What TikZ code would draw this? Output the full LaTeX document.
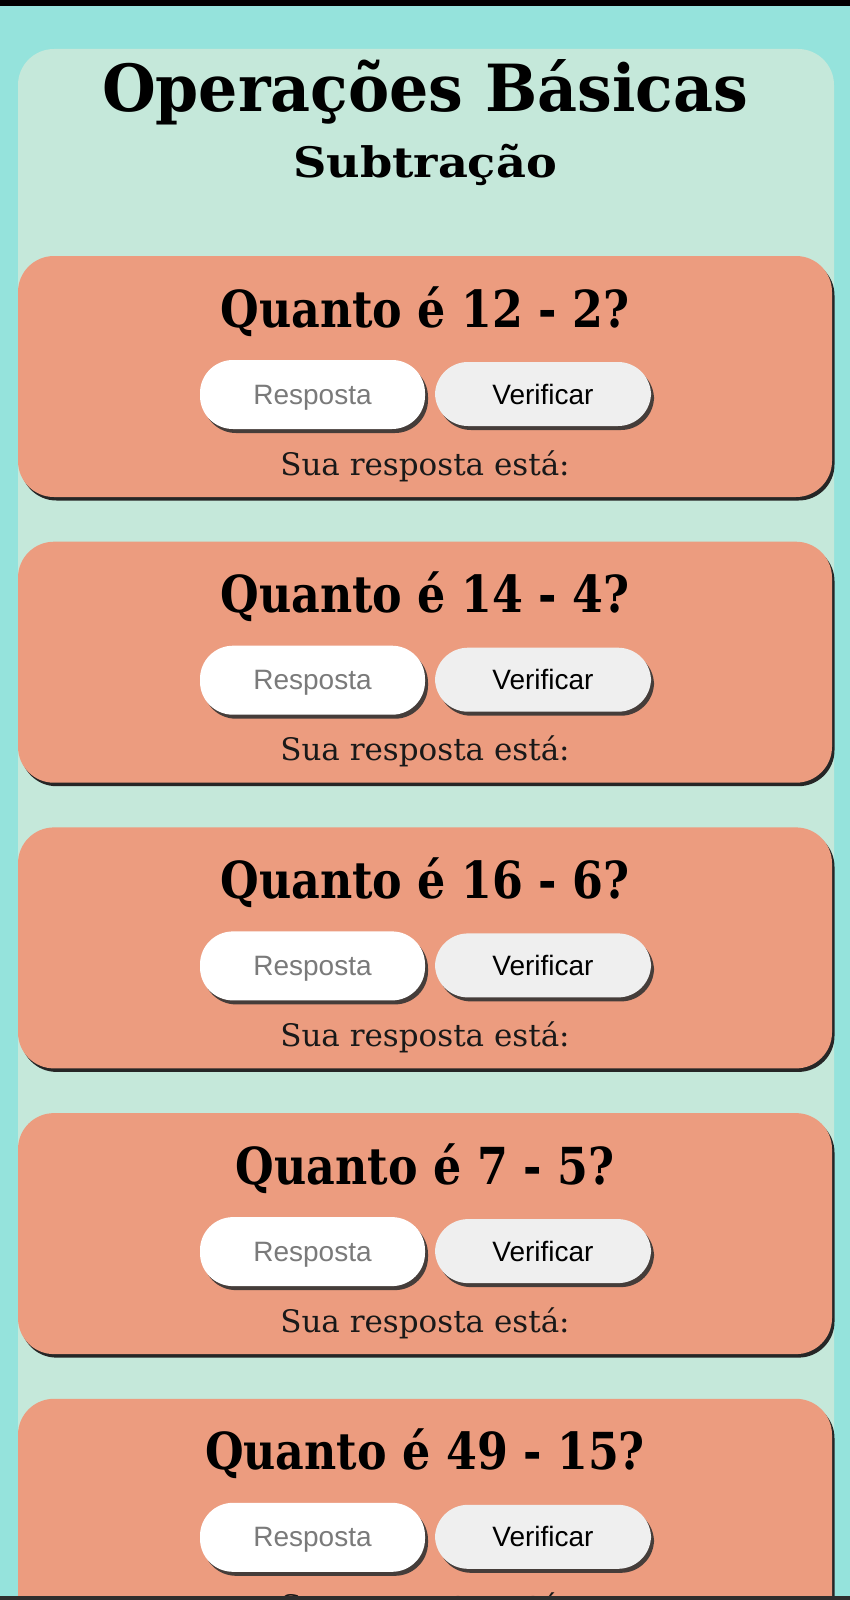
\documentclass[tikz,border=0pt]{standalone}
\usepackage{fontspec}
\setmainfont{DejaVu Serif}
\newfontfamily\titlefont[FakeStretch=0.95]{DejaVu Serif}
\newfontfamily\subfont[FakeStretch=1.1]{DejaVu Serif}
\newfontfamily\questfont[FakeStretch=0.87]{DejaVu Serif}
\newfontfamily\btnfont{Liberation Sans}
\usetikzlibrary{shadows}
\definecolor{outerbg}{HTML}{95E3DC}
\definecolor{panelbg}{HTML}{C5E8DA}
\definecolor{cardbg}{HTML}{EC9C7F}
\definecolor{btngray}{HTML}{EFEFEF}
\definecolor{hintgray}{HTML}{7A7A7A}
\definecolor{barbot}{HTML}{2E2E2E}

\begin{document}
\begin{tikzpicture}[x=1pt,y=-1pt,
	cardbox/.style={fill=cardbg, rounded corners=36pt, minimum width=814pt, minimum height=241pt, inner sep=0pt,
		drop shadow={shadow xshift=2.5pt, shadow yshift=-3.5pt, fill=black!85, opacity=1}},
	pillbox/.style={rounded corners=33pt, inner sep=0pt, text depth=0pt, font=\btnfont\fontsize{28}{30}\selectfont,
		drop shadow={shadow xshift=3pt, shadow yshift=-4pt, fill=black!80, opacity=.9}},
	titletext/.style={anchor=base, font=\titlefont\fontsize{65}{68}\selectfont\bfseries},
	subtext/.style={anchor=base, font=\subfont\fontsize{42}{45}\selectfont\bfseries},
	questiontext/.style={anchor=base, font=\questfont\fontsize{51}{54}\selectfont\bfseries},
	statustext/.style={anchor=base, text=black!90, font=\fontsize{31}{34}\selectfont}]
		%%%%% START %%%%%
		
		\useasboundingbox (0, 0) rectangle (850, 1600);
		\fill[outerbg] (0, 0) rectangle (850, 1600);
		
		% light panel
		\fill[panelbg, rounded corners=36pt] (18, 49) rectangle (834, 1640);
		
		\node[titletext] (title) at (425, 112) {Operações Básicas};
		\node[subtext] (subtitle) at (425, 177) {Subtração};
		
		% question cards
		\foreach \q [count=\i from 0] in {12 - 2, 14 - 4, 16 - 6, 7 - 5, 49 - 15} {
			\pgfmathsetmacro\ctop{256 + 285.7*\i}
			\node[cardbox] (card\i) at (425, \ctop + 120.5) {};
			\node[questiontext] (quest\i) at (425, \ctop + 71) {Quanto é \q?};
			\node[pillbox, fill=white, text=hintgray, minimum width=225pt, minimum height=69pt] (answer\i) at (312.5, \ctop + 138.5) {Resposta};
			\node[pillbox, fill=btngray, text=black, minimum width=216pt, minimum height=64pt] (check\i) at (543, \ctop + 138) {Verificar};
			\node[statustext] (status\i) at (425, \ctop + 219) {Sua resposta está:};
		}
		
		% status bars
		\fill[black] (0, 0) rectangle (850, 6);
		\fill[barbot] (0, 1596) rectangle (850, 1600);
		
		%%%%% END %%%%%
	\end{tikzpicture}
\end{document}
